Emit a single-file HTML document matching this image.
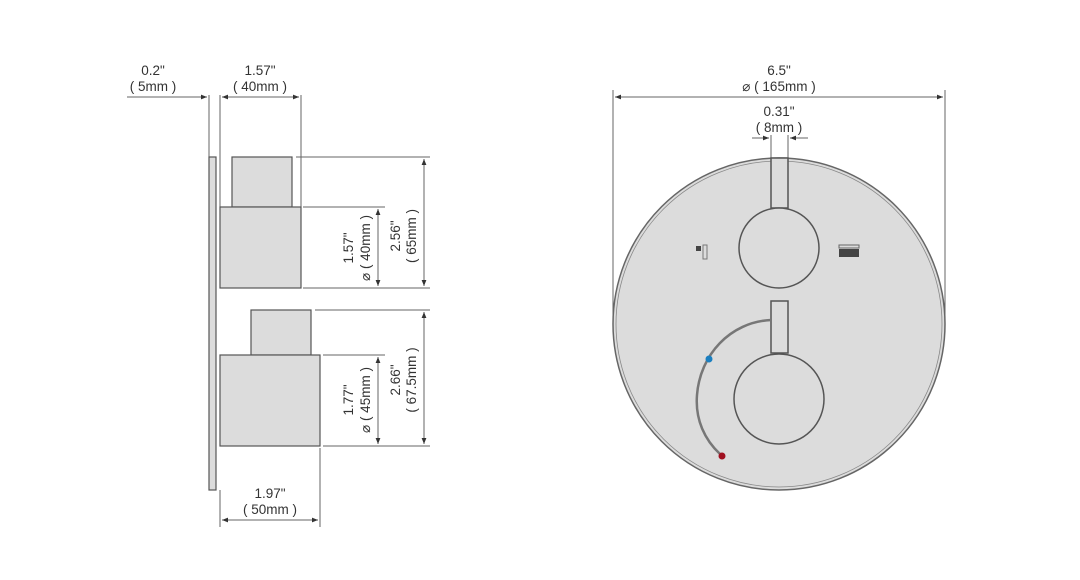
<!DOCTYPE html>
<html><head><meta charset="utf-8"><style>
html,body{margin:0;padding:0;background:#fff;}
svg{display:block}
text{font-family:"Liberation Sans",sans-serif;font-size:13.5px;fill:#333;}
</style></head><body>
<svg width="1080" height="580" viewBox="0 0 1080 580" xmlns="http://www.w3.org/2000/svg">
<defs>
<marker id="a" viewBox="0 0 10 10" refX="10" refY="5" markerWidth="8" markerHeight="6" orient="auto-start-reverse"><path d="M0,1 L10,5 L0,9 z" fill="#333"/></marker>
</defs>
<g stroke="#666" stroke-width="1" fill="none">
<line x1="209" y1="95" x2="209" y2="157"/>
<line x1="220" y1="95" x2="220" y2="207"/>
<line x1="301" y1="95" x2="301" y2="207"/>
<line x1="127" y1="97" x2="207" y2="97" marker-end="url(#a)"/>
<line x1="222" y1="97" x2="299" y2="97" marker-start="url(#a)" marker-end="url(#a)"/>
<line x1="296" y1="157" x2="430" y2="157"/>
<line x1="303" y1="207" x2="385" y2="207"/>
<line x1="303" y1="288" x2="430" y2="288"/>
<line x1="378" y1="209" x2="378" y2="286" marker-start="url(#a)" marker-end="url(#a)"/>
<line x1="424" y1="159" x2="424" y2="286" marker-start="url(#a)" marker-end="url(#a)"/>
<line x1="315" y1="310" x2="430" y2="310"/>
<line x1="323" y1="355" x2="385" y2="355"/>
<line x1="323" y1="446" x2="430" y2="446"/>
<line x1="378" y1="357" x2="378" y2="444" marker-start="url(#a)" marker-end="url(#a)"/>
<line x1="424" y1="312" x2="424" y2="444" marker-start="url(#a)" marker-end="url(#a)"/>
<line x1="320" y1="448" x2="320" y2="527"/>
<line x1="220" y1="490" x2="220" y2="527"/>
<line x1="222" y1="520" x2="318" y2="520" marker-start="url(#a)" marker-end="url(#a)"/>
<line x1="613" y1="90" x2="613" y2="320"/>
<line x1="945" y1="90" x2="945" y2="320"/>
<line x1="615" y1="97" x2="943" y2="97" marker-start="url(#a)" marker-end="url(#a)"/>
<line x1="771" y1="135" x2="771" y2="160"/>
<line x1="788" y1="135" x2="788" y2="160"/>
<line x1="752" y1="138" x2="769" y2="138" marker-end="url(#a)"/>
<line x1="808" y1="138" x2="790" y2="138" marker-end="url(#a)"/>
</g>
<g stroke="#555" stroke-width="1.2" fill="#dcdcdc">
<rect x="209" y="157" width="7" height="333"/>
<rect x="232" y="157" width="60" height="50"/>
<rect x="220" y="207" width="81" height="81"/>
<rect x="251" y="310" width="60" height="45"/>
<rect x="220" y="355" width="100" height="91"/>
</g>
<circle cx="779" cy="324" r="166" fill="#dcdcdc" stroke="#666" stroke-width="1.5"/>
<circle cx="779" cy="324" r="163" fill="none" stroke="#888" stroke-width="0.8"/>
<g stroke="#555" stroke-width="1.5" fill="#dcdcdc">
<rect x="771" y="158" width="17" height="50"/>
<circle cx="779" cy="248" r="40"/>
<rect x="771" y="301" width="17" height="52"/>
<circle cx="779" cy="399" r="45"/>
</g>
<path d="M771,320 C730,322 700,355 697,395 C695,420 705,440 720,454" fill="none" stroke="#777" stroke-width="2.5"/>
<circle cx="709" cy="359" r="3.5" fill="#1a7fc0"/>
<circle cx="722" cy="456" r="3.5" fill="#a01020"/>
<rect x="696" y="246" width="5" height="5" fill="#444"/>
<rect x="703" y="245" width="4" height="14" fill="none" stroke="#777"/>
<rect x="839" y="245" width="20" height="3" fill="none" stroke="#666"/>
<rect x="839" y="249" width="20" height="8" fill="#444"/>
<text x="153" y="75" text-anchor="middle">0.2"</text>
<text x="153" y="91" text-anchor="middle">( 5mm )</text>
<text x="260" y="75" text-anchor="middle">1.57"</text>
<text x="260" y="91" text-anchor="middle">( 40mm )</text>
<text x="270" y="498" text-anchor="middle">1.97"</text>
<text x="270" y="514" text-anchor="middle">( 50mm )</text>
<text x="779" y="75" text-anchor="middle">6.5"</text>
<text x="779" y="91" text-anchor="middle">⌀  ( 165mm )</text>
<text x="779" y="116" text-anchor="middle">0.31"</text>
<text x="779" y="132" text-anchor="middle">( 8mm )</text>
<g transform="translate(353,248) rotate(-90)"><text text-anchor="middle">1.57"</text></g>
<g transform="translate(370,248) rotate(-90)"><text text-anchor="middle">⌀ ( 40mm )</text></g>
<g transform="translate(400,236) rotate(-90)"><text text-anchor="middle">2.56"</text></g>
<g transform="translate(416,236) rotate(-90)"><text text-anchor="middle">( 65mm )</text></g>
<g transform="translate(353,400) rotate(-90)"><text text-anchor="middle">1.77"</text></g>
<g transform="translate(370,400) rotate(-90)"><text text-anchor="middle">⌀ ( 45mm )</text></g>
<g transform="translate(400,380) rotate(-90)"><text text-anchor="middle">2.66"</text></g>
<g transform="translate(416,380) rotate(-90)"><text text-anchor="middle">( 67.5mm )</text></g>
</svg>
</body></html>
